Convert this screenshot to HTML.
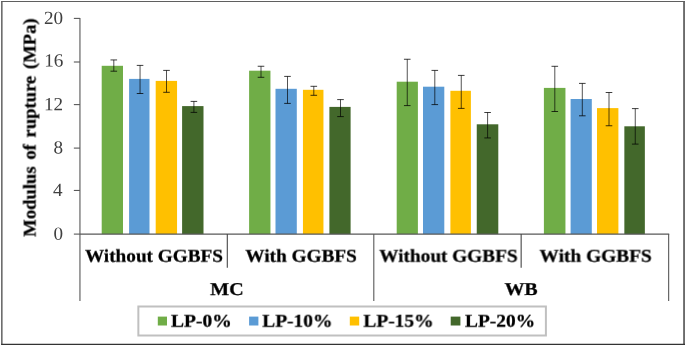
<!DOCTYPE html>
<html><head><meta charset="utf-8"><title>Modulus of rupture</title>
<style>
html,body{margin:0;padding:0;background:#fff;}
svg{display:block;}
text{font-family:"Liberation Serif","DejaVu Serif",serif;text-rendering:geometricPrecision;}
.b{font-weight:bold;fill:#000;stroke:#000;stroke-width:0.25px;filter:url(#bl);}
.t{fill:#404040;}
</style></head><body>
<svg width="685" height="346" viewBox="0 0 685 346">
<defs><filter id="bl" x="-5%" y="-30%" width="110%" height="160%"><feGaussianBlur stdDeviation="0.45"/></filter></defs>
<rect x="0" y="0" width="685" height="346" fill="#fff"/>

<rect x="101.70" y="65.8" width="21.30" height="168.3" fill="#70ad47"/>
<rect x="129.10" y="78.9" width="20.40" height="155.2" fill="#5b9bd5"/>
<rect x="155.70" y="80.9" width="21.35" height="153.2" fill="#ffc000"/>
<rect x="182.10" y="106.1" width="21.40" height="128.0" fill="#43682b"/>
<rect x="249.10" y="70.7" width="21.35" height="163.4" fill="#70ad47"/>
<rect x="275.50" y="88.8" width="21.30" height="145.3" fill="#5b9bd5"/>
<rect x="302.95" y="89.8" width="20.50" height="144.3" fill="#ffc000"/>
<rect x="329.40" y="106.9" width="21.20" height="127.2" fill="#43682b"/>
<rect x="396.70" y="81.7" width="21.20" height="152.4" fill="#70ad47"/>
<rect x="423.00" y="86.7" width="21.30" height="147.4" fill="#5b9bd5"/>
<rect x="450.40" y="90.8" width="20.50" height="143.3" fill="#ffc000"/>
<rect x="476.75" y="124.3" width="21.55" height="109.8" fill="#43682b"/>
<rect x="543.90" y="87.9" width="21.55" height="146.2" fill="#70ad47"/>
<rect x="570.60" y="99.0" width="21.20" height="135.1" fill="#5b9bd5"/>
<rect x="597.00" y="108.1" width="21.40" height="126.0" fill="#ffc000"/>
<rect x="624.35" y="126.3" width="20.50" height="107.8" fill="#43682b"/>
<path d="M113.80 59.95V71.20" stroke="#000" stroke-opacity="0.68" stroke-width="1" fill="none"/>
<path d="M110.50 59.95H117.10M110.50 71.20H117.10" stroke="#000" stroke-opacity="0.76" stroke-width="1" fill="none"/>
<path d="M140.05 65.40V93.50" stroke="#000" stroke-opacity="0.68" stroke-width="1" fill="none"/>
<path d="M136.75 65.40H143.35M136.75 93.50H143.35" stroke="#000" stroke-opacity="0.76" stroke-width="1" fill="none"/>
<path d="M166.50 70.40V92.30" stroke="#000" stroke-opacity="0.68" stroke-width="1" fill="none"/>
<path d="M163.20 70.40H169.80M163.20 92.30H169.80" stroke="#000" stroke-opacity="0.76" stroke-width="1" fill="none"/>
<path d="M193.90 101.40V112.40" stroke="#000" stroke-opacity="0.68" stroke-width="1" fill="none"/>
<path d="M190.60 101.40H197.20M190.60 112.40H197.20" stroke="#000" stroke-opacity="0.76" stroke-width="1" fill="none"/>
<path d="M261.00 66.25V77.30" stroke="#000" stroke-opacity="0.68" stroke-width="1" fill="none"/>
<path d="M257.70 66.25H264.30M257.70 77.30H264.30" stroke="#000" stroke-opacity="0.76" stroke-width="1" fill="none"/>
<path d="M287.50 76.40V103.40" stroke="#000" stroke-opacity="0.68" stroke-width="1" fill="none"/>
<path d="M284.20 76.40H290.80M284.20 103.40H290.80" stroke="#000" stroke-opacity="0.76" stroke-width="1" fill="none"/>
<path d="M313.80 86.30V95.30" stroke="#000" stroke-opacity="0.68" stroke-width="1" fill="none"/>
<path d="M310.50 86.30H317.10M310.50 95.30H317.10" stroke="#000" stroke-opacity="0.76" stroke-width="1" fill="none"/>
<path d="M340.50 99.60V116.60" stroke="#000" stroke-opacity="0.68" stroke-width="1" fill="none"/>
<path d="M337.20 99.60H343.80M337.20 116.60H343.80" stroke="#000" stroke-opacity="0.76" stroke-width="1" fill="none"/>
<path d="M407.25 59.25V105.60" stroke="#000" stroke-opacity="0.68" stroke-width="1" fill="none"/>
<path d="M403.95 59.25H410.55M403.95 105.60H410.55" stroke="#000" stroke-opacity="0.76" stroke-width="1" fill="none"/>
<path d="M434.80 70.40V104.60" stroke="#000" stroke-opacity="0.68" stroke-width="1" fill="none"/>
<path d="M431.50 70.40H438.10M431.50 104.60H438.10" stroke="#000" stroke-opacity="0.76" stroke-width="1" fill="none"/>
<path d="M461.25 75.40V108.40" stroke="#000" stroke-opacity="0.68" stroke-width="1" fill="none"/>
<path d="M457.95 75.40H464.55M457.95 108.40H464.55" stroke="#000" stroke-opacity="0.76" stroke-width="1" fill="none"/>
<path d="M487.60 112.50V137.95" stroke="#000" stroke-opacity="0.68" stroke-width="1" fill="none"/>
<path d="M484.30 112.50H490.90M484.30 137.95H490.90" stroke="#000" stroke-opacity="0.76" stroke-width="1" fill="none"/>
<path d="M554.80 66.30V111.50" stroke="#000" stroke-opacity="0.68" stroke-width="1" fill="none"/>
<path d="M551.50 66.30H558.10M551.50 111.50H558.10" stroke="#000" stroke-opacity="0.76" stroke-width="1" fill="none"/>
<path d="M582.30 83.40V115.80" stroke="#000" stroke-opacity="0.68" stroke-width="1" fill="none"/>
<path d="M579.00 83.40H585.60M579.00 115.80H585.60" stroke="#000" stroke-opacity="0.76" stroke-width="1" fill="none"/>
<path d="M609.00 92.50V125.75" stroke="#000" stroke-opacity="0.68" stroke-width="1" fill="none"/>
<path d="M605.70 92.50H612.30M605.70 125.75H612.30" stroke="#000" stroke-opacity="0.76" stroke-width="1" fill="none"/>
<path d="M635.25 108.60V144.10" stroke="#000" stroke-opacity="0.68" stroke-width="1" fill="none"/>
<path d="M631.95 108.60H638.55M631.95 144.10H638.55" stroke="#000" stroke-opacity="0.76" stroke-width="1" fill="none"/>
<path d="M79.95 17.9V301.0" stroke="#585858" stroke-width="1.1" fill="none"/>
<path d="M73.85000000000001 234.10H79.95" stroke="#585858" stroke-width="1.1" fill="none"/>
<path d="M73.85000000000001 190.45H79.95" stroke="#585858" stroke-width="1.1" fill="none"/>
<path d="M73.85000000000001 148.10H79.95" stroke="#585858" stroke-width="1.1" fill="none"/>
<path d="M73.85000000000001 104.60H79.95" stroke="#585858" stroke-width="1.1" fill="none"/>
<path d="M73.85000000000001 62.00H79.95" stroke="#585858" stroke-width="1.1" fill="none"/>
<path d="M73.85000000000001 18.40H79.95" stroke="#585858" stroke-width="1.1" fill="none"/>
<path d="M79.95 234.1H669.2" stroke="#585858" stroke-width="1.1" fill="none"/>
<path d="M227.3 234.1V267.8" stroke="#464646" stroke-width="1.1" fill="none"/>
<path d="M373.8 234.1V301.0" stroke="#585858" stroke-width="1.1" fill="none"/>
<path d="M521.15 234.1V267.8" stroke="#464646" stroke-width="1.1" fill="none"/>
<path d="M668.65 234.1V301.0" stroke="#585858" stroke-width="1.1" fill="none"/>
<text class="t" transform="translate(63.0,239.75) rotate(-0.03) scale(1.03,1)" font-size="18.6" text-anchor="end">0</text>
<text class="t" transform="translate(62.7,196.05) rotate(-0.03) scale(1.03,1)" font-size="18.6" text-anchor="end">4</text>
<text class="t" transform="translate(63.1,153.6) rotate(-0.03) scale(1.03,1)" font-size="18.6" text-anchor="end">8</text>
<text class="t" transform="translate(63.1,110.15) rotate(-0.03) scale(1.03,1)" font-size="18.6" text-anchor="end">12</text>
<text class="t" transform="translate(63.3,66.55) rotate(-0.03) scale(1.03,1)" font-size="18.6" text-anchor="end">16</text>
<text class="t" transform="translate(63.1,24.05) rotate(-0.03) scale(1.03,1)" font-size="18.6" text-anchor="end">20</text>
<text class="b" transform="translate(35.5,127.6) rotate(-90.03) scale(1.034,1)" font-size="18" text-anchor="middle" word-spacing="2.0">Modulus of rupture (MPa)</text>
<text class="b" transform="translate(154.0,261.7) rotate(-0.03) scale(1.069,1)" font-size="18" text-anchor="middle">Without GGBFS</text>
<text class="b" transform="translate(301.1,261.7) rotate(-0.03) scale(1.07,1)" font-size="18" text-anchor="middle">With GGBFS</text>
<text class="b" transform="translate(448.45,261.7) rotate(-0.03) scale(1.071,1)" font-size="18" text-anchor="middle">Without GGBFS</text>
<text class="b" transform="translate(595.65,261.7) rotate(-0.03) scale(1.078,1)" font-size="18" text-anchor="middle">With GGBFS</text>
<text class="b" transform="translate(226.9,295.0) rotate(-0.03) scale(1.115,1)" font-size="18" text-anchor="middle">MC</text>
<text class="b" transform="translate(521.1,295.0) rotate(-0.03) scale(1.108,1)" font-size="18" text-anchor="middle">WB</text>
<rect x="138.35" y="306.5" width="407.55" height="29" fill="#fff" stroke="#c0c0c0" stroke-width="2"/>
<rect x="157.8" y="316.6" width="9.2" height="8.9" fill="#70ad47"/>
<text class="b" transform="translate(170.95,326.7) rotate(-0.03) scale(1.087,1)" font-size="18" text-anchor="start">LP-0%</text>
<rect x="249.1" y="316.6" width="9.3" height="8.9" fill="#5b9bd5"/>
<text class="b" transform="translate(262.3,326.7) rotate(-0.03) scale(1.08,1)" font-size="18" text-anchor="start">LP-10%</text>
<rect x="349.8" y="316.6" width="9.4" height="8.9" fill="#ffc000"/>
<text class="b" transform="translate(363.4,326.7) rotate(-0.03) scale(1.082,1)" font-size="18" text-anchor="start">LP-15%</text>
<rect x="450.7" y="316.6" width="9.7" height="8.9" fill="#43682b"/>
<text class="b" transform="translate(465.0,326.7) rotate(-0.03) scale(1.078,1)" font-size="18" text-anchor="start">LP-20%</text>
<path d="M1.85 1V345" stroke="#4a4a4a" stroke-width="1.3" fill="none"/>
<path d="M684.05 1V345" stroke="#6b6b6b" stroke-width="1.9" fill="none"/>
<path d="M1.2 1.55H685" stroke="#5f5f5f" stroke-width="1.1" fill="none"/>
<path d="M1.2 344.4H685" stroke="#333" stroke-width="1.2" fill="none"/>
</svg></body></html>
